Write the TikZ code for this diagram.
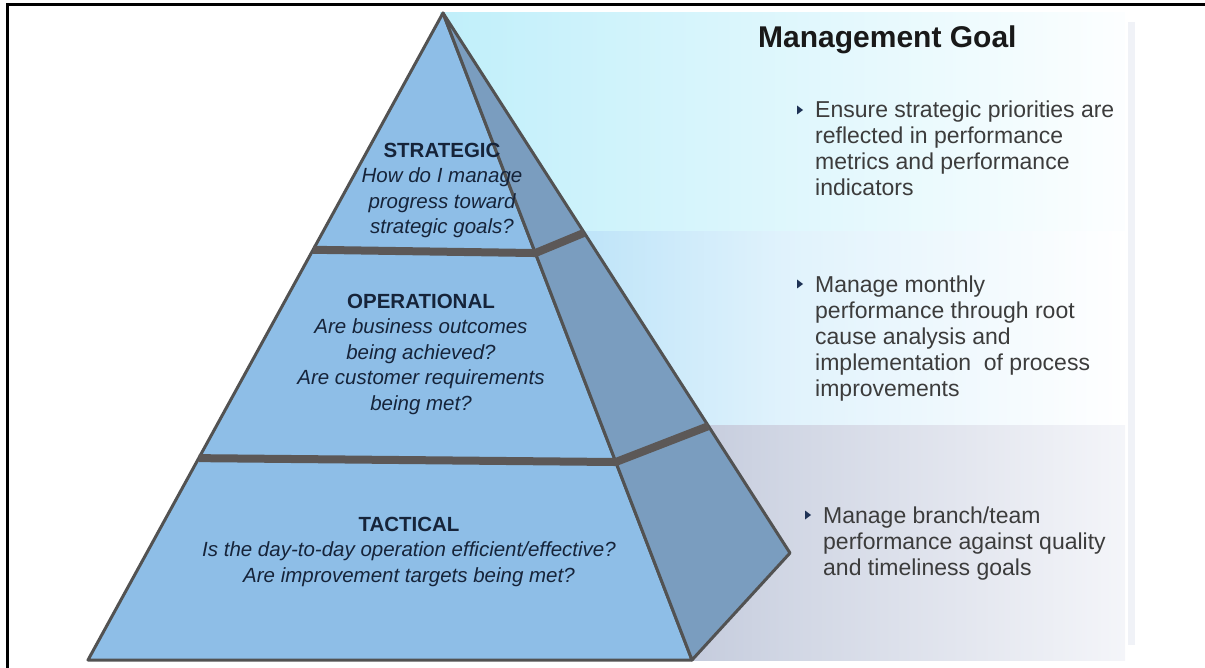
\documentclass[tikz,border=0pt]{standalone}
\usepackage{fontspec}
\setmainfont{Liberation Sans}
\usetikzlibrary{calc}

\definecolor{frontblue}{RGB}{142,190,231}
\definecolor{sideblue}{RGB}{122,157,191}
\definecolor{edgegray}{RGB}{82,82,82}
\definecolor{bandgray}{RGB}{92,88,87}
\definecolor{textnavy}{RGB}{22,36,58}
\definecolor{goaltext}{RGB}{60,60,60}
\definecolor{tipnavy}{RGB}{30,50,85}
\definecolor{panelA}{RGB}{192,239,250}
\definecolor{panelB}{RGB}{166,218,246}
\definecolor{panelC}{RGB}{165,176,202}
\definecolor{panelCend}{RGB}{244,245,249}
\definecolor{stripgray}{RGB}{240,242,247}

% multi-line nodes sit on the baseline of their last line
\tikzset{
  layer/.style={font=\fontsize{20.5}{25.5}\selectfont\itshape, text=textnavy, align=center, inner sep=0pt, anchor=base},
  goal/.style={font=\fontsize{23}{26}\selectfont, text=goaltext, align=left, inner sep=0pt, anchor=base west},
  face/.style={draw=edgegray, line width=3pt, line join=round},
  band/.style={draw=bandgray, line width=8pt, line join=round},
  tip/.style={fill=tipnavy}
}

\begin{document}
\begin{tikzpicture}[x=1pt,y=-1pt]
\useasboundingbox (0,0) rectangle (1205,668);
% background panels
\shade[left color=panelA, right color=white!96!panelA] (440,13) rectangle (1125,232);
\shade[left color=panelB, right color=white, middle color=panelB!35!white] (440,232) rectangle (1125,425);
\shade[left color=panelC, right color=panelCend, middle color=panelC!45!panelCend] (440,425) rectangle (1125,660);
\fill[stripgray] (1128,22) rectangle (1135,645);

% frame
\draw[line width=3pt] (7,668) -- (7,5) -- (1205,5);

% pyramid corners
\coordinate (apex) at (443,13);
\coordinate (bl) at (88,660);
\coordinate (br) at (692,660);
\coordinate (sr) at (790,553);
% layer boundaries
\coordinate (l1) at ($(apex)!0.366!(bl)$);
\coordinate (r1) at ($(apex)!0.371!(br)$);
\coordinate (o1) at ($(apex)!0.407!(sr)$);
\coordinate (l2) at ($(apex)!0.688!(bl)$);
\coordinate (r2) at ($(apex)!0.694!(br)$);
\coordinate (o2) at ($(apex)!0.765!(sr)$);

% faces
\filldraw[face, fill=frontblue] (apex) -- (bl) -- (br) -- cycle;
\filldraw[face, fill=sideblue] (apex) -- (br) -- (sr) -- cycle;
\draw[band] (l1) -- (r1) -- (o1);
\draw[band] (l2) -- (r2) -- (o2);

% layer texts
\node[layer] (strategic) at (442,234) {{\bfseries\upshape STRATEGIC}\\How do I manage\\progress toward\\strategic goals?};
\node[layer] (operational) at (421,410) {{\bfseries\upshape OPERATIONAL}\\Are business outcomes\\being achieved?\\Are customer requirements\\being met?};
\node[layer] (tactical) at (409,582) {{\bfseries\upshape TACTICAL}\\Is the day-to-day operation efficient/effective?\\Are improvement targets being met?};

% management goals
\node[font=\fontsize{30}{34}\selectfont\bfseries, text=black!90, inner sep=0pt, anchor=base west] (title) at (758,48) {Management Goal};
\node[goal] (goal1) at (815,196) {Ensure strategic priorities are\\reflected in performance\\metrics and performance\\indicators};
\node[goal] (goal2) at (815,396) {Manage monthly\\performance through root\\cause analysis and\\implementation \ of process\\improvements};
\node[goal] (goal3) at (823,575) {Manage branch/team\\performance against quality\\and timeliness goals};

% bullets
\foreach \g/\x/\y in {goal1/797/110, goal2/797/284, goal3/805/515}
  \fill[tip] (\x,\y-4.5) -- (\x+6,\y) -- (\x,\y+4.5) -- cycle;
\end{tikzpicture}
\end{document}
